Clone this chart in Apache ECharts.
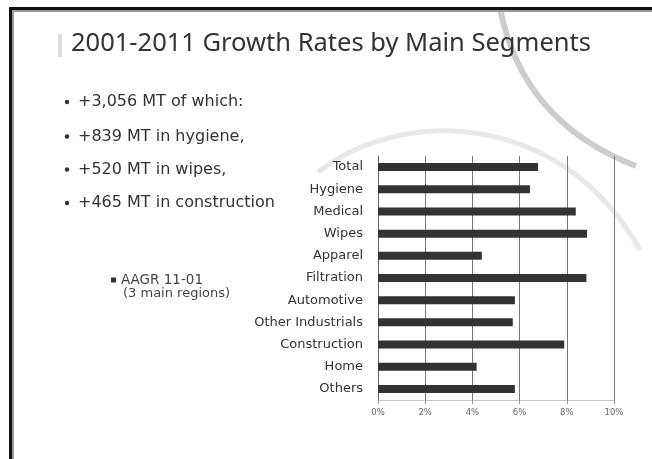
<!DOCTYPE html>
<html>
<head>
<meta charset="utf-8">
<script src="https://cdn.jsdelivr.net/npm/echarts@6/dist/echarts.min.js"></script>
<style>
html,body{margin:0;padding:0;background:#fff;}
#chart{width:652px;height:459px;}
</style>
</head>
<body>
<div id="chart"></div>
<script>
var categories = ['Total','Hygiene','Medical','Wipes','Apparel','Filtration','Automotive','Other Industrials','Construction','Home','Others'];
var aagrValues = [6.78, 6.44, 8.38, 8.86, 4.4, 8.83, 5.8, 5.71, 7.89, 4.18, 5.8];
var xTicks = [0, 2, 4, 6, 8, 10];
var seriesName = 'AAGR 11-01';
var legendSub = '(3 main regions)';
var titleText = '2001-2011 Growth Rates by Main Segments';
var bullets = ['+3,056 MT of which:', '+839 MT in hygiene,', '+520 MT in wipes,', '+465 MT in construction'];

var TFONT = '"Noto Sans", "DejaVu Sans", sans-serif';
var FONT = '"DejaVu Sans", "Noto Sans", sans-serif';
var chart = echarts.init(document.getElementById('chart'), null, {renderer: 'canvas'});

var graphics = [
  // decorative arcs
  {type: 'bezierCurve', z: -10, shape: {x1: 318, y1: 172, cpx1: 400, cpy1: 108, cpx2: 560, cpy2: 108, x2: 640, y2: 250},
   style: {fill: null, stroke: '#e8e8e8', lineWidth: 5}},
  {type: 'bezierCurve', z: -10, shape: {x1: 500, y1: 8, cpx1: 522, cpy1: 122, x2: 636, y2: 166},
   style: {fill: null, stroke: '#cdcdcd', lineWidth: 6}},
  // frame
  {type: 'rect', z: 10, shape: {x: 9, y: 7, width: 643, height: 3}, style: {fill: '#111'}},
  {type: 'rect', z: 10, shape: {x: 9, y: 10, width: 643, height: 2}, style: {fill: '#9a9a9a'}},
  {type: 'rect', z: 10, shape: {x: 9, y: 7, width: 3, height: 452}, style: {fill: '#111'}},
  {type: 'rect', z: 10, shape: {x: 12, y: 10, width: 2, height: 449}, style: {fill: '#9a9a9a'}},
  // title marker
  {type: 'rect', shape: {x: 58, y: 34, width: 4, height: 23}, style: {fill: '#dcdcdc'}},
  // legend second line
  {type: 'text', x: 123, y: 293.5, style: {text: legendSub, font: '13px ' + FONT, fill: '#444', verticalAlign: 'middle'}}
];
bullets.forEach(function (b, i) {
  var y = [102, 136.5, 169.5, 203][i];
  graphics.push({type: 'circle', shape: {cx: 67, cy: y, r: 2.2}, style: {fill: '#333'}});
  graphics.push({type: 'text', x: 78, y: y, style: {text: b, font: '16px ' + FONT, fill: '#333', verticalAlign: 'middle'}});
});

chart.setOption({
  animation: false,
  backgroundColor: '#fff',
  textStyle: {fontFamily: FONT},
  title: {
    text: titleText, left: 66, top: 26,
    textStyle: {fontSize: 25.5, fontWeight: 'normal', color: '#333', fontFamily: TFONT}
  },
  legend: {
    left: 106, top: 268, itemWidth: 5, itemHeight: 5, itemGap: 0,
    icon: 'rect',
    textStyle: {fontSize: 13.5, color: '#444', fontFamily: FONT},
    data: [seriesName]
  },
  grid: {left: 378, right: 38, top: 156, bottom: 59, containLabel: false},
  xAxis: {
    type: 'value', min: 0, max: 10, interval: 2,
    axisLine: {show: true, lineStyle: {color: '#c8c8c8'}},
    axisTick: {show: true, length: 4, lineStyle: {color: '#999'}},
    splitLine: {show: true, lineStyle: {color: '#7a7a7a', width: 1}},
    axisLabel: {formatter: '{value}%', fontSize: 8.5, color: '#666', margin: 8}
  },
  yAxis: {
    type: 'category', data: categories, inverse: true,
    axisLine: {show: true, lineStyle: {color: '#666'}},
    axisTick: {show: false},
    axisLabel: {fontSize: 13, color: '#333', margin: 15}
  },
  series: [{
    name: seriesName, type: 'bar', data: aagrValues, barWidth: 8,
    itemStyle: {color: '#333'}
  }],
  graphic: graphics
});
</script>
</body>
</html>
